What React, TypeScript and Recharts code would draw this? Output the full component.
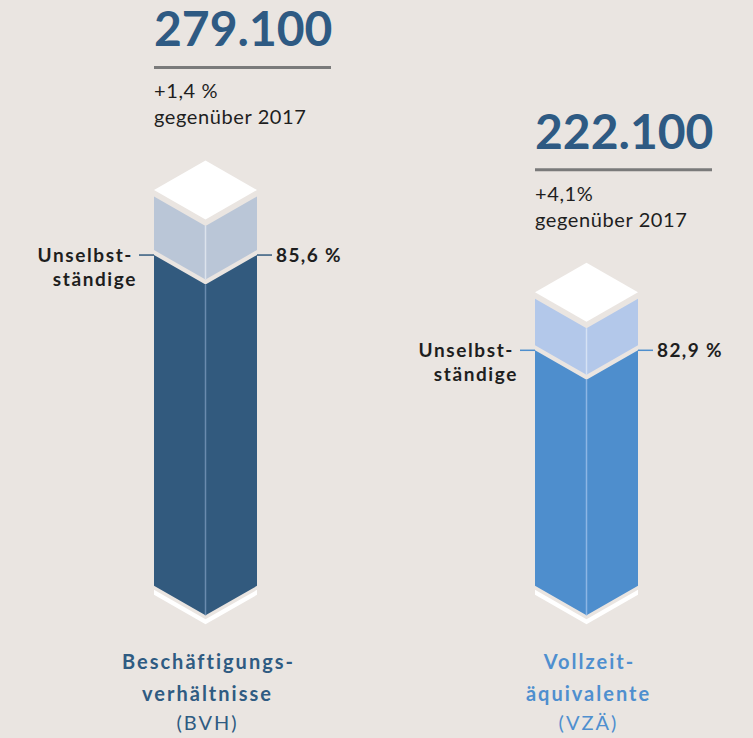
import React from 'react';
import { BarChart, Bar, XAxis, YAxis, LabelList } from 'recharts';

// ---- data ----
const categories = ['BVH', 'VZÄ'];
const categoryLine1 = ['Beschäftigungs-', 'Vollzeit-'];
const categoryLine2 = ['verhältnisse', 'äquivalente'];
const categoryLine3 = ['(BVH)', '(VZÄ)'];
const totals = [279100, 222100];
const totalLabels = ['279.100', '222.100'];
const changeLabels = ['+1,4 %', '+4,1%'];
const changeNote = 'gegenüber 2017';
const employedShare = [85.6, 82.9];
const shareLabels = ['85,6 %', '82,9 %'];
const employedLine1 = 'Unselbst-';
const employedLine2 = 'ständige';
const AXIS_BREAK = 62000; // columns are drawn cut off above this value
const DOMAIN_MAX = 300000;

// ---- styles ----
const BG = '#EAE5E1';
const darkColors = ['#325A7E', '#4E8ECD'];
const darkLines = ['#6A8BAE', '#8DB6E4'];
const lightColors = ['#BAC6D7', '#B3C8EA'];
const lightLines = ['#DCE3EC', '#D6E2F4'];
const labelColors = ['#2F5B82', '#4F8FCF'];
const NUMBER_COLOR = '#2E5A83';
const TEXT = '#1E1E1E';
const DEPTH = 0.573;
const GAP = 5;
const FONT = 'Lato, "Noto Sans", sans-serif';

const data = categories.map((c, i) => {
  const split = AXIS_BREAK + ((totals[i] - AXIS_BREAK) * employedShare[i]) / 100;
  return { name: c, employed: split, rest: totals[i] - split };
});

const EmployedShape = (props: any) => {
  const { x, y, width, height, index, payload } = props;
  const k = height / payload.employed;
  const floor = y + height - AXIS_BREAK * k;
  const cx = x + width / 2;
  const d = (width / 2) * DEPTH;
  const top = y + GAP / 2;
  const r = x + width;
  const face = `${x},${top} ${cx},${top + d} ${r},${top} ${r},${floor} ${cx},${floor + d} ${x},${floor}`;
  const b1 = floor + 4;
  const b2 = floor + 9;
  const base = `${x},${b1} ${cx},${b1 + d} ${r},${b1} ${r},${b2} ${cx},${b2 + d} ${x},${b2}`;
  return (
    <g>
      <polygon points={face} fill={darkColors[index]} />
      <line x1={cx} y1={top + d} x2={cx} y2={floor + d} stroke={darkLines[index]} strokeWidth={1.5} />
      <polygon points={base} fill="#FFFFFF" />
    </g>
  );
};

const RestShape = (props: any) => {
  const { x, y, width, height, index } = props;
  const cx = x + width / 2;
  const d = (width / 2) * DEPTH;
  const r = x + width;
  const bottom = y + height - GAP / 2;
  const face = `${x},${y} ${cx},${y + d} ${r},${y} ${r},${bottom} ${cx},${bottom + d} ${x},${bottom}`;
  const t = y - 6.5;
  const lid = `${x},${t} ${cx},${t - d} ${r},${t} ${cx},${t + d}`;
  return (
    <g>
      <polygon points={face} fill={lightColors[index]} />
      <line x1={cx} y1={y + d} x2={cx} y2={bottom + d} stroke={lightLines[index]} strokeWidth={1.5} />
      <polygon points={lid} fill="#FFFFFF" />
    </g>
  );
};

const TotalLabel = (props: any) => {
  const { x, y, index } = props;
  return (
    <g style={{ fontFamily: FONT }}>
      <text x={x} y={y - 150} fill={NUMBER_COLOR} fontSize={48} fontWeight={700}>
        {totalLabels[index]}
      </text>
      <line x1={x} y1={y - 129} x2={x + 177} y2={y - 129} stroke="#7A7A7A" strokeWidth={3} />
      <text x={x} y={y - 98} fill={TEXT} fontSize={20} letterSpacing={0.6}>
        {changeLabels[index]}
      </text>
      <text x={x} y={y - 72} fill={TEXT} fontSize={20} letterSpacing={0.6}>
        {changeNote}
      </text>
    </g>
  );
};

const ShareLabel = (props: any) => {
  const { x, y, width, index } = props;
  const top = y + GAP / 2;
  const r = x + width;
  return (
    <g style={{ fontFamily: FONT }}>
      <line x1={x - 15} y1={top} x2={x} y2={top} stroke={darkColors[index]} strokeWidth={1.5} />
      <line x1={r} y1={top} x2={r + 15} y2={top} stroke={darkColors[index]} strokeWidth={1.5} />
      <text x={x - 21} y={top + 7} textAnchor="end" fill={TEXT} fontSize={19} fontWeight={700} letterSpacing={1.6}>
        {employedLine1}
      </text>
      <text x={x - 17} y={top + 31} textAnchor="end" fill={TEXT} fontSize={19} fontWeight={700} letterSpacing={1.6}>
        {employedLine2}
      </text>
      <text x={r + 19} y={top + 6.5} fill={TEXT} fontSize={19} fontWeight={700} letterSpacing={1.4}>
        {shareLabels[index]}
      </text>
    </g>
  );
};

const CategoryTick = (props: any) => {
  const { x, y, payload } = props;
  const i = payload && typeof payload.index === 'number' ? payload.index : categories.indexOf(payload.value);
  const c = labelColors[i];
  const base = y - 36;
  return (
    <g style={{ fontFamily: FONT }}>
      <text x={x + 3} y={base} textAnchor="middle" fill={c} fontSize={20} fontWeight={700} letterSpacing={2}>
        {categoryLine1[i]}
      </text>
      <text x={x + 2} y={base + 32} textAnchor="middle" fill={c} fontSize={20} fontWeight={700} letterSpacing={2}>
        {categoryLine2[i]}
      </text>
      <text x={x + 2} y={base + 61} textAnchor="middle" fill={c} fontSize={20} letterSpacing={2}>
        {categoryLine3[i]}
      </text>
    </g>
  );
};

export default function App() {
  return (
    <div style={{ position: 'absolute', left: 0, top: 0, width: 753, height: 738, background: BG, overflow: 'hidden' }}>
      <BarChart
        width={753}
        height={738}
        data={data}
        margin={{ top: 159, right: -24, bottom: 0, left: 15 }}
        barSize={103}
      >
        <XAxis dataKey="name" axisLine={false} tickLine={false} height={41} tick={<CategoryTick />} interval={0} />
        <YAxis hide domain={[0, DOMAIN_MAX]} />
        <Bar dataKey="employed" stackId="a" isAnimationActive={false} shape={<EmployedShape />}>
          <LabelList content={<ShareLabel />} />
        </Bar>
        <Bar dataKey="rest" stackId="a" isAnimationActive={false} shape={<RestShape />}>
          <LabelList content={<TotalLabel />} />
        </Bar>
      </BarChart>
    </div>
  );
}
